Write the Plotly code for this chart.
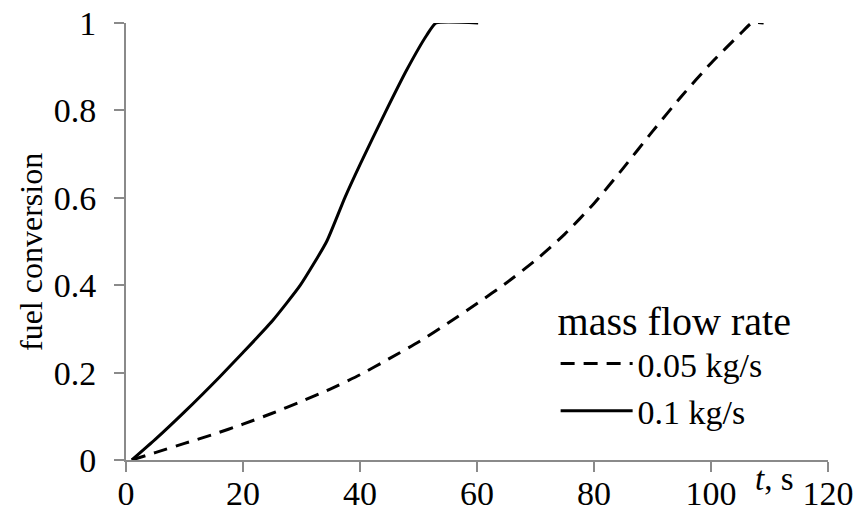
import plotly.graph_objects as go

# fuel conversion vs time for two mass flow rates
t_low = [1, 5, 10, 15, 20, 25, 30, 35, 40, 45, 50, 55, 60, 65, 70, 75, 80,
         85, 90, 95, 100, 105, 107, 109]
conv_low = [0, 0.017, 0.038, 0.059, 0.082, 0.107, 0.134, 0.163, 0.195, 0.232,
            0.27, 0.313, 0.358, 0.405, 0.457, 0.517, 0.587, 0.668, 0.752,
            0.833, 0.908, 0.975, 1.0, 1.0]

t_high = [1, 5, 10, 16, 20, 25, 29.8, 34.3, 37.4, 40, 44.3, 48, 51.4, 53,
          60.2]
conv_high = [0, 0.047, 0.11, 0.19, 0.246, 0.318, 0.4, 0.5, 0.6, 0.676, 0.795,
             0.893, 0.972, 1.0, 1.0]

x_ticks = [0, 20, 40, 60, 80, 100, 120]
y_ticks = [0, 0.2, 0.4, 0.6, 0.8, 1]
y_tick_text = ["0", "0.2", "0.4", "0.6", "0.8", "1"]

FONT = "Liberation Serif, Times New Roman, serif"
AXIS_GREY = "#8a8a8a"

fig = go.Figure()
fig.add_trace(go.Scatter(
    x=t_low, y=conv_low, mode="lines", name="0.05 kg/s",
    line=dict(color="black", width=3, dash="14px,9px", shape="spline", smoothing=0.6),
))
fig.add_trace(go.Scatter(
    x=t_high, y=conv_high, mode="lines", name="0.1 kg/s",
    line=dict(color="black", width=3, shape="spline", smoothing=0.5),
))

fig.update_layout(
    width=857, height=518,
    margin=dict(l=126, r=29, t=23, b=58),
    paper_bgcolor="white", plot_bgcolor="white",
    font=dict(family=FONT, color="black", size=34),
    showlegend=True,
    legend=dict(
        title=dict(text="mass flow rate", font=dict(size=40, family=FONT)),
        font=dict(size=34, family=FONT),
        x=0.612, y=0.405, xanchor="left", yanchor="top",
        bgcolor="rgba(0,0,0,0)", itemwidth=72,
        tracegroupgap=0,
    ),
    xaxis=dict(
        range=[0, 120], tickvals=x_ticks, showgrid=False, zeroline=False,
        showline=True, linecolor=AXIS_GREY, linewidth=2,
        ticks="outside", ticklen=10, tickwidth=2, tickcolor=AXIS_GREY,
        tickfont=dict(size=34, family=FONT), ticklabelstandoff=-8,
        automargin=False,
    ),
    yaxis=dict(
        range=[0, 1], tickvals=y_ticks, ticktext=y_tick_text, showgrid=False,
        zeroline=False, showline=True, linecolor=AXIS_GREY, linewidth=2,
        ticks="outside", ticklen=10, tickwidth=2, tickcolor=AXIS_GREY,
        tickfont=dict(size=34, family=FONT), ticklabelstandoff=11,
        automargin=False,
    ),
    annotations=[
        dict(
            x=110.8, y=0, xref="x", yref="y", yshift=-19, showarrow=False,
            text="<i>t</i>, s", font=dict(size=33, family=FONT),
            xanchor="center", yanchor="middle",
        ),
        dict(
            x=0, y=0, xref="paper", yref="paper", showarrow=False,
            text="fuel conversion", textangle=-90,
            font=dict(size=32, family=FONT),
            xanchor="center", yanchor="middle",
        ),
    ],
)

# place the rotated y-axis title in pixel terms
plot_w = 857 - 126 - 29
plot_h = 518 - 23 - 58
fig.layout.annotations[1].x = (31 - 126) / plot_w
fig.layout.annotations[1].y = (518 - 58 - 252) / plot_h

fig.write_html("out.html")
